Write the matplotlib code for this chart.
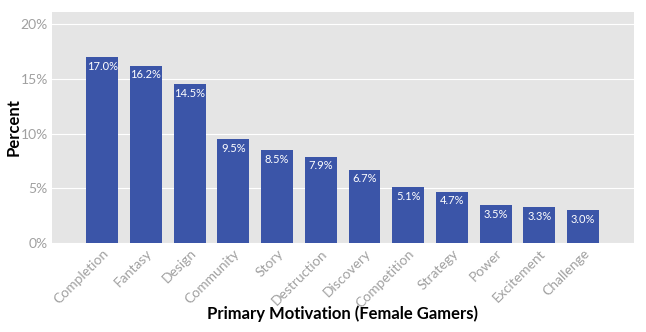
import matplotlib
matplotlib.use("Agg")
import matplotlib.pyplot as plt
from matplotlib.ticker import FuncFormatter

categories = ["Completion", "Fantasy", "Design", "Community", "Story", "Destruction",
              "Discovery", "Competition", "Strategy", "Power", "Excitement", "Challenge"]
values = [17.0, 16.2, 14.5, 9.5, 8.5, 7.9, 6.7, 5.1, 4.7, 3.5, 3.3, 3.0]
yticks = [0, 5, 10, 15, 20]

plt.rcParams['font.family'] = ['Lato', 'DejaVu Sans']

fig = plt.figure(figsize=(6.46, 3.32), dpi=100)
ax = fig.add_axes([0.0805, 0.268, 0.9005, 0.696])
ax.set_facecolor("#e5e5e5")
x = list(range(len(categories)))
ax.bar(x, values, width=0.73, color="#3b55a8", zorder=3)
for xi, v in zip(x, values):
    ax.text(xi, v - 0.35, f"{v:.1f}%", ha="center", va="top", color="white",
            fontsize=8, zorder=4)
ax.set_xlim(-1.15, 11 + 1.16)
ax.set_ylim(0, 21.1)
ax.set_yticks(yticks)
ax.yaxis.set_major_formatter(FuncFormatter(lambda v, p: f"{v:.0f}%"))
ax.grid(axis="y", color="white", linewidth=0.8, zorder=0)
ax.set_axisbelow(True)
for s in ax.spines.values():
    s.set_visible(False)
ax.tick_params(length=0, colors="#a0a0a0", labelsize=10, pad=3)
ax.set_xticks(x)
ax.set_xticklabels(categories, rotation=45, ha="right", rotation_mode="anchor")
ax.set_ylabel("Percent", fontsize=12, fontweight="bold", color="black", va="center")
ax.yaxis.set_label_coords(-0.066, 0.5)
ax.set_xlabel("Primary Motivation (Female Gamers)", fontsize=12, fontweight="bold",
              color="black", va="center")
ax.xaxis.set_label_coords(0.5, -0.305)
fig.savefig("out.png", dpi=100)
